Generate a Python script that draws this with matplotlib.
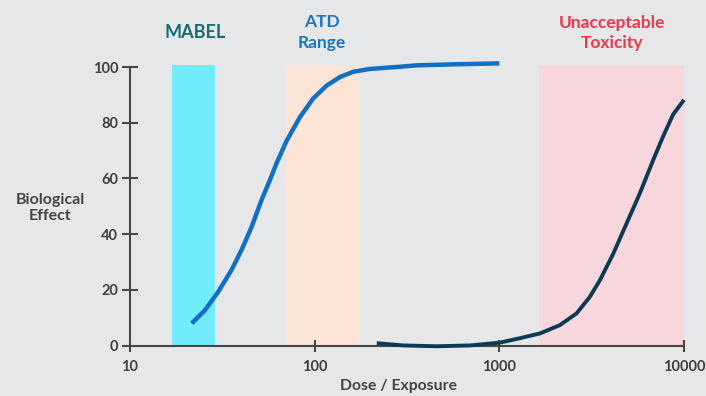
import matplotlib
matplotlib.use("Agg")
import matplotlib.pyplot as plt
from matplotlib.ticker import FixedLocator, NullLocator

plt.rcParams["font.family"] = ["Lato", "DejaVu Sans"]

# Efficacy curve (blue)
eff_dose = [21.6, 25.5, 30.1, 35.5, 40.3, 45.6, 51.6, 57.3, 62.2, 70.5, 83.2, 98.2,
            116, 137, 162, 199, 290, 358, 600, 1000]
eff_resp = [8.0, 12.8, 19.4, 27.2, 34.5, 42.7, 52.3, 59.5, 65.5, 73.5, 82.0, 88.7,
            93.3, 96.4, 98.3, 99.3, 100.1, 100.6, 101.0, 101.3]

# Toxicity curve (dark)
tox_dose = [217, 302, 458, 693, 1007, 1294, 1660, 2130, 2620, 3090, 3505, 4140,
            4890, 5770, 6810, 7710, 8740, 10000]
tox_resp = [0.9, 0.1, -0.2, 0.1, 1.1, 2.7, 4.4, 7.4, 11.6, 17.5, 23.5, 33.0,
            43.9, 54.7, 66.6, 75.1, 83.0, 88.2]

# Shaded dose ranges
mabel_range = (16.9, 28.8)
atd_range = (69.7, 173)
tox_range = (1645, 10000)

x_ticks = [10, 100, 1000, 10000]
x_tick_labels = ["10", "100", "1000", "10000"]
y_ticks = [0, 20, 40, 60, 80, 100]

bg = "#e6e7e9"
axis_col = "#474747"

fig = plt.figure(figsize=(7.06, 3.96), dpi=100, facecolor=bg)
ax = fig.add_axes([0.1841, 0.127, 0.7847, 0.7038], facecolor=bg)

ax.axvspan(*mabel_range, ymin=0, ymax=1.007, color="#72ecfc", lw=0, clip_on=False, zorder=1)
ax.axvspan(*atd_range, ymin=0, ymax=1.007, color="#fce4d7", lw=0, clip_on=False, zorder=1)
ax.axvspan(*tox_range, ymin=0, ymax=1.007, color="#f8d6de", lw=0, clip_on=False, zorder=1)

ax.plot(eff_dose, eff_resp, color="#1170c4", lw=3.2, solid_capstyle="butt",
        solid_joinstyle="round", clip_on=False, zorder=3)
ax.plot(tox_dose, tox_resp, color="#0d3a52", lw=2.8, solid_capstyle="butt",
        solid_joinstyle="round", clip_on=False, zorder=3)

ax.set_xscale("log")
ax.set_xlim(10, 10000)
ax.set_ylim(0, 100)

ax.xaxis.set_major_locator(FixedLocator(x_ticks))
ax.xaxis.set_minor_locator(NullLocator())
ax.set_xticklabels(x_tick_labels)
ax.set_yticks(y_ticks)

for s in ["top", "right"]:
    ax.spines[s].set_visible(False)
for s in ["left", "bottom"]:
    ax.spines[s].set_color(axis_col)
    ax.spines[s].set_linewidth(1.5)

ax.tick_params(axis="y", direction="inout", length=11, width=1.5, color=axis_col,
               labelsize=10.5, labelcolor="#3f3f3f", pad=3)
ax.tick_params(axis="x", direction="inout", length=8, width=1.5, color=axis_col,
               labelsize=10.5, labelcolor="#3f3f3f", pad=6)
for lbl in ax.get_xticklabels() + ax.get_yticklabels():
    lbl.set_fontweight("bold")

fig.text(50 / 706, 1 - 208 / 396, "Biological\nEffect", ha="center", va="center",
         fontsize=11.5, fontweight="bold", color="#444444", linespacing=1.25)
fig.text(399 / 706, 1 - 386 / 396, "Dose / Exposure", ha="center", va="center",
         fontsize=11.3, fontweight="bold", color="#444444")

fig.text(195 / 706, 1 - 33 / 396, "MABEL", ha="center", va="center",
         fontsize=13, fontweight="bold", color="#146d74")
fig.text(322 / 706, 1 - 32.5 / 396, "ATD\nRange", ha="center", va="center",
         fontsize=12.5, fontweight="bold", color="#1b76c0", linespacing=1.38)
fig.text(612 / 706, 1 - 33 / 396, "Unacceptable\nToxicity", ha="center", va="center",
         fontsize=12.5, fontweight="bold", color="#e8394e", linespacing=1.38)

fig.savefig("out.png", dpi=100, facecolor=bg)
